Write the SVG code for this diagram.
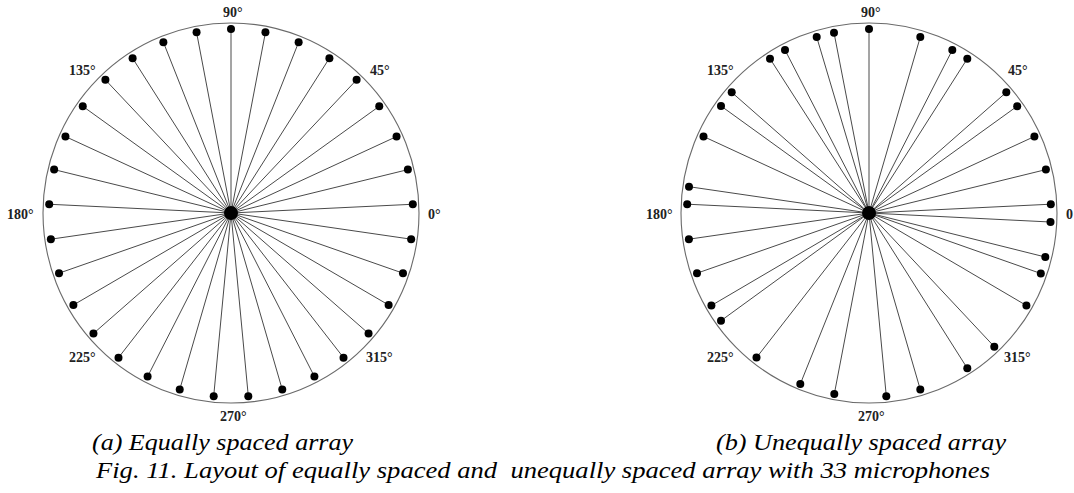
<svg xmlns="http://www.w3.org/2000/svg" width="1074" height="493" viewBox="0 0 1074 493">
<style>
.ring{fill:none;stroke:#6a6a6a;stroke-width:1.1}
.spoke{stroke:#4a4a4a;stroke-width:1}
.mic{fill:#000}
.hub{fill:#000}
.deg{font-weight:bold;font-size:14px;fill:#222}
.cap{font-style:italic;font-size:24px;fill:#000}
</style>
<rect width="1074" height="493" fill="#fff"/>

<g id="diagram-a">
  <ellipse id="a-ring" class="ring" cx="231" cy="213" rx="188" ry="190"/>
  <g id="a-connectors" class="spoke">
    <line x1="231" y1="213" x2="231" y2="29"/>
    <line x1="231" y1="213" x2="196.56" y2="32.33"/>
    <line x1="231" y1="213" x2="163.36" y2="42.18"/>
    <line x1="231" y1="213" x2="132.6" y2="58.21"/>
    <line x1="231" y1="213" x2="105.4" y2="79.84"/>
    <line x1="231" y1="213" x2="82.75" y2="106.27"/>
    <line x1="231" y1="213" x2="65.45" y2="136.56"/>
    <line x1="231" y1="213" x2="54.13" y2="169.62"/>
    <line x1="231" y1="213" x2="49.21" y2="204.25"/>
    <line x1="231" y1="213" x2="50.85" y2="239.19"/>
    <line x1="231" y1="213" x2="59.02" y2="273.18"/>
    <line x1="231" y1="213" x2="73.38" y2="305"/>
    <line x1="231" y1="213" x2="93.45" y2="333.49"/>
    <line x1="231" y1="213" x2="118.49" y2="357.63"/>
    <line x1="231" y1="213" x2="147.6" y2="376.54"/>
    <line x1="231" y1="213" x2="179.73" y2="389.55"/>
    <line x1="231" y1="213" x2="213.7" y2="396.17"/>
    <line x1="231" y1="213" x2="248.3" y2="396.17"/>
    <line x1="231" y1="213" x2="282.27" y2="389.55"/>
    <line x1="231" y1="213" x2="314.4" y2="376.54"/>
    <line x1="231" y1="213" x2="343.51" y2="357.63"/>
    <line x1="231" y1="213" x2="368.55" y2="333.49"/>
    <line x1="231" y1="213" x2="388.62" y2="305"/>
    <line x1="231" y1="213" x2="402.98" y2="273.18"/>
    <line x1="231" y1="213" x2="411.15" y2="239.19"/>
    <line x1="231" y1="213" x2="412.79" y2="204.25"/>
    <line x1="231" y1="213" x2="407.87" y2="169.62"/>
    <line x1="231" y1="213" x2="396.55" y2="136.56"/>
    <line x1="231" y1="213" x2="379.25" y2="106.27"/>
    <line x1="231" y1="213" x2="356.6" y2="79.84"/>
    <line x1="231" y1="213" x2="329.4" y2="58.21"/>
    <line x1="231" y1="213" x2="298.64" y2="42.18"/>
    <line x1="231" y1="213" x2="265.44" y2="32.33"/>
  </g>
  <g id="a-mics" class="mic">
    <circle cx="231" cy="29" r="4"/>
    <circle cx="196.56" cy="32.33" r="4"/>
    <circle cx="163.36" cy="42.18" r="4"/>
    <circle cx="132.6" cy="58.21" r="4"/>
    <circle cx="105.4" cy="79.84" r="4"/>
    <circle cx="82.75" cy="106.27" r="4"/>
    <circle cx="65.45" cy="136.56" r="4"/>
    <circle cx="54.13" cy="169.62" r="4"/>
    <circle cx="49.21" cy="204.25" r="4"/>
    <circle cx="50.85" cy="239.19" r="4"/>
    <circle cx="59.02" cy="273.18" r="4"/>
    <circle cx="73.38" cy="305" r="4"/>
    <circle cx="93.45" cy="333.49" r="4"/>
    <circle cx="118.49" cy="357.63" r="4"/>
    <circle cx="147.6" cy="376.54" r="4"/>
    <circle cx="179.73" cy="389.55" r="4"/>
    <circle cx="213.7" cy="396.17" r="4"/>
    <circle cx="248.3" cy="396.17" r="4"/>
    <circle cx="282.27" cy="389.55" r="4"/>
    <circle cx="314.4" cy="376.54" r="4"/>
    <circle cx="343.51" cy="357.63" r="4"/>
    <circle cx="368.55" cy="333.49" r="4"/>
    <circle cx="388.62" cy="305" r="4"/>
    <circle cx="402.98" cy="273.18" r="4"/>
    <circle cx="411.15" cy="239.19" r="4"/>
    <circle cx="412.79" cy="204.25" r="4"/>
    <circle cx="407.87" cy="169.62" r="4"/>
    <circle cx="396.55" cy="136.56" r="4"/>
    <circle cx="379.25" cy="106.27" r="4"/>
    <circle cx="356.6" cy="79.84" r="4"/>
    <circle cx="329.4" cy="58.21" r="4"/>
    <circle cx="298.64" cy="42.18" r="4"/>
    <circle cx="265.44" cy="32.33" r="4"/>
  </g>
  <circle id="a-hub" class="hub" cx="231" cy="213" r="7"/>
  <g id="a-labels" class="deg" font-family="Liberation Serif, serif">
    <text x="223" y="17">90°</text>
    <text x="69" y="75">135°</text>
    <text x="370" y="75">45°</text>
    <text x="7" y="219">180°</text>
    <text x="428" y="219">0°</text>
    <text x="69" y="362">225°</text>
    <text x="366" y="362">315°</text>
    <text x="220" y="421">270°</text>
  </g>
</g>

<g id="diagram-b">
  <ellipse id="b-ring" class="ring" cx="869" cy="213" rx="188" ry="190"/>
  <g id="b-connectors" class="spoke">
    <line x1="869" y1="213" x2="869" y2="29"/>
    <line x1="869" y1="213" x2="834" y2="32.7"/>
    <line x1="869" y1="213" x2="816.7" y2="37"/>
    <line x1="869" y1="213" x2="785" y2="50"/>
    <line x1="869" y1="213" x2="770" y2="58.7"/>
    <line x1="869" y1="213" x2="731.7" y2="92.3"/>
    <line x1="869" y1="213" x2="721" y2="106"/>
    <line x1="869" y1="213" x2="703.5" y2="136.5"/>
    <line x1="869" y1="213" x2="689" y2="186.7"/>
    <line x1="869" y1="213" x2="687.2" y2="204.2"/>
    <line x1="869" y1="213" x2="688.9" y2="239.2"/>
    <line x1="869" y1="213" x2="697" y2="273.2"/>
    <line x1="869" y1="213" x2="711.4" y2="305.5"/>
    <line x1="869" y1="213" x2="721" y2="320.7"/>
    <line x1="869" y1="213" x2="756.5" y2="357.6"/>
    <line x1="869" y1="213" x2="800.3" y2="384"/>
    <line x1="869" y1="213" x2="834.3" y2="394"/>
    <line x1="869" y1="213" x2="886.3" y2="396.2"/>
    <line x1="869" y1="213" x2="920.3" y2="389.6"/>
    <line x1="869" y1="213" x2="967.3" y2="368.3"/>
    <line x1="869" y1="213" x2="994.3" y2="346.7"/>
    <line x1="869" y1="213" x2="1026.4" y2="305.5"/>
    <line x1="869" y1="213" x2="1040.8" y2="273.5"/>
    <line x1="869" y1="213" x2="1045.3" y2="257"/>
    <line x1="869" y1="213" x2="1050.5" y2="222"/>
    <line x1="869" y1="213" x2="1050.8" y2="204.2"/>
    <line x1="869" y1="213" x2="1045.9" y2="169.6"/>
    <line x1="869" y1="213" x2="1034.4" y2="136.5"/>
    <line x1="869" y1="213" x2="1017.2" y2="106.2"/>
    <line x1="869" y1="213" x2="1006.3" y2="92.3"/>
    <line x1="869" y1="213" x2="967.3" y2="58.7"/>
    <line x1="869" y1="213" x2="952.3" y2="50"/>
    <line x1="869" y1="213" x2="920.3" y2="37"/>
  </g>
  <g id="b-mics" class="mic">
    <circle cx="869" cy="29" r="4"/>
    <circle cx="834" cy="32.7" r="4"/>
    <circle cx="816.7" cy="37" r="4"/>
    <circle cx="785" cy="50" r="4"/>
    <circle cx="770" cy="58.7" r="4"/>
    <circle cx="731.7" cy="92.3" r="4"/>
    <circle cx="721" cy="106" r="4"/>
    <circle cx="703.5" cy="136.5" r="4"/>
    <circle cx="689" cy="186.7" r="4"/>
    <circle cx="687.2" cy="204.2" r="4"/>
    <circle cx="688.9" cy="239.2" r="4"/>
    <circle cx="697" cy="273.2" r="4"/>
    <circle cx="711.4" cy="305.5" r="4"/>
    <circle cx="721" cy="320.7" r="4"/>
    <circle cx="756.5" cy="357.6" r="4"/>
    <circle cx="800.3" cy="384" r="4"/>
    <circle cx="834.3" cy="394" r="4"/>
    <circle cx="886.3" cy="396.2" r="4"/>
    <circle cx="920.3" cy="389.6" r="4"/>
    <circle cx="967.3" cy="368.3" r="4"/>
    <circle cx="994.3" cy="346.7" r="4"/>
    <circle cx="1026.4" cy="305.5" r="4"/>
    <circle cx="1040.8" cy="273.5" r="4"/>
    <circle cx="1045.3" cy="257" r="4"/>
    <circle cx="1050.5" cy="222" r="4"/>
    <circle cx="1050.8" cy="204.2" r="4"/>
    <circle cx="1045.9" cy="169.6" r="4"/>
    <circle cx="1034.4" cy="136.5" r="4"/>
    <circle cx="1017.2" cy="106.2" r="4"/>
    <circle cx="1006.3" cy="92.3" r="4"/>
    <circle cx="967.3" cy="58.7" r="4"/>
    <circle cx="952.3" cy="50" r="4"/>
    <circle cx="920.3" cy="37" r="4"/>
  </g>
  <circle id="b-hub" class="hub" cx="869" cy="213" r="7"/>
  <g id="b-labels" class="deg" font-family="Liberation Serif, serif">
    <text x="861" y="17">90°</text>
    <text x="707" y="75">135°</text>
    <text x="1008" y="75">45°</text>
    <text x="646" y="219">180°</text>
    <text x="1066" y="219">0</text>
    <text x="707" y="362">225°</text>
    <text x="1004" y="362">315°</text>
    <text x="858" y="421">270°</text>
  </g>
</g>

<g id="captions" class="cap" font-family="Liberation Serif, serif">
  <text x="92" y="450" textLength="261" lengthAdjust="spacingAndGlyphs">(a) Equally spaced array</text>
  <text x="716" y="450" textLength="290" lengthAdjust="spacingAndGlyphs">(b) Unequally spaced array</text>
  <text x="96" y="478" textLength="894" lengthAdjust="spacingAndGlyphs" xml:space="preserve">Fig. 11. Layout of equally spaced and  unequally spaced array with 33 microphones</text>
</g>
</svg>
